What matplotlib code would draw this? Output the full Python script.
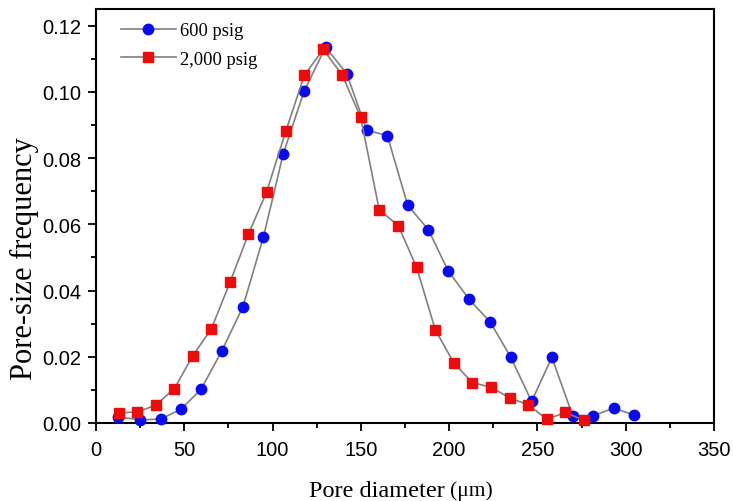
import matplotlib
matplotlib.use("Agg")
import matplotlib.pyplot as plt
from matplotlib.ticker import MultipleLocator, FormatStrFormatter

# 600 psig
x_600 = [12.6, 24.9, 36.6, 48.0, 59.5, 71.2, 83.2, 94.8, 106.0, 117.8, 130.0, 142.0, 153.3,
         165.0, 176.5, 188.2, 199.5, 211.4, 223.1, 235.0, 246.7, 258.2, 270.0, 281.6, 293.3, 304.8]
y_600 = [0.0019, 0.0009, 0.0012, 0.0041, 0.0102, 0.0217, 0.0351, 0.0561, 0.0812, 0.1001, 0.1135,
         0.1055, 0.0884, 0.0868, 0.0658, 0.0584, 0.0459, 0.0373, 0.0306, 0.0198, 0.0065, 0.0198,
         0.0022, 0.0022, 0.0045, 0.0024]

# 2,000 psig
x_2000 = [13.0, 23.4, 33.8, 44.4, 54.8, 65.3, 75.9, 86.3, 96.6, 107.6, 118.0, 128.7, 139.5, 149.9,
          160.4, 171.2, 181.6, 192.2, 202.7, 213.1, 223.7, 234.3, 244.6, 255.6, 265.8, 276.4]
y_2000 = [0.0031, 0.0033, 0.0054, 0.0104, 0.0203, 0.0284, 0.0425, 0.0570, 0.0697, 0.0883, 0.1050,
          0.1128, 0.1050, 0.0923, 0.0644, 0.0596, 0.0470, 0.0281, 0.0181, 0.0122, 0.0108, 0.0076,
          0.0055, 0.0011, 0.0032, 0.0008]

serif = "Liberation Serif"
sans = "Liberation Sans"

fig = plt.figure(figsize=(7.33, 5.02), dpi=100)
ax = fig.add_axes([0.131, 0.1554, 0.843, 0.8246])

ax.plot(x_600, y_600, color="#808080", lw=1.2, marker="o", ms=7.5,
        mfc="#0a0af0", mec="#0a0af0", label="600 psig", clip_on=False, zorder=3)
ax.plot(x_2000, y_2000, color="#808080", lw=1.2, marker="s", ms=6.5,
        mfc="#f00a0a", mec="#f00a0a", label="2,000 psig", clip_on=False, zorder=3)

ax.set_xlim(0, 350)
ax.set_ylim(0, 0.125)
ax.xaxis.set_major_locator(MultipleLocator(50))
ax.xaxis.set_minor_locator(MultipleLocator(25))
ax.yaxis.set_major_locator(MultipleLocator(0.02))
ax.yaxis.set_minor_locator(MultipleLocator(0.01))
ax.yaxis.set_major_formatter(FormatStrFormatter("%.2f"))

ax.tick_params(which="both", direction="out", width=1.3, top=False, right=False)
ax.tick_params(which="major", length=5.8, labelsize=14.5)
ax.tick_params(which="minor", length=3.8)
ax.tick_params(axis="x", which="major", pad=6.5)
ax.tick_params(axis="y", which="major", pad=5)
for lab in ax.get_xticklabels() + ax.get_yticklabels():
    lab.set_family(sans)
for s in ax.spines.values():
    s.set_linewidth(1.5)

# axis titles
fig.text(24 / 733, 1 - 259 / 502, "Pore-size frequency", family=serif, fontsize=22,
         rotation=90, ha="center", va="center")
t1 = fig.text(309 / 733, 5 / 502, "Pore diameter", family=serif, fontsize=17.5,
              ha="left", va="baseline")
ax.annotate("(μm)", xy=(1, 0), xycoords=t1, xytext=(4, 0.5), textcoords="offset points",
            family=serif, fontsize=15.5, ha="left", va="bottom", annotation_clip=False)

ax.legend(loc="upper left", frameon=False, prop={"family": serif, "size": 13.3},
          handlelength=3.0, handletextpad=0.2, borderaxespad=0, borderpad=0,
          labelspacing=0.62, bbox_to_anchor=(0.040, 0.968))

fig.savefig("out.png", dpi=100)
